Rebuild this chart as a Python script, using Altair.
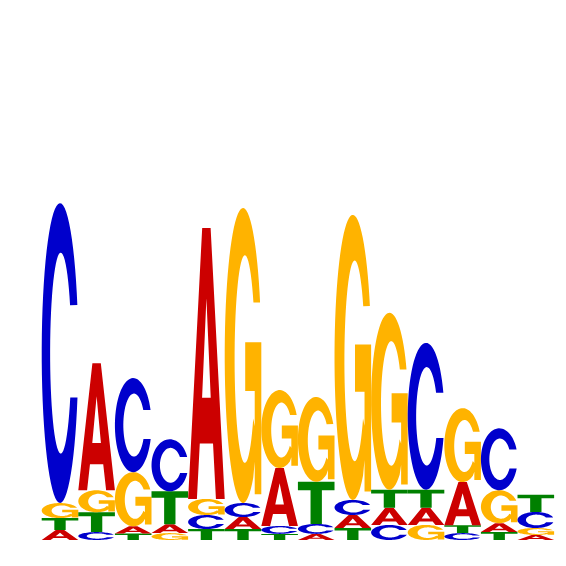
import numpy as np
import pandas as pd
import altair as alt

alt.data_transformers.disable_max_rows()

# ---- data: information (bits) carried by each base at each of 14 positions ----
positions = list(range(1, 15))
bits_A = [0.039, 0.498, 0.029, 0.035, 1.063, 0.047, 0.227, 0.024, 0.051, 0.067, 0.067, 0.169, 0.035, 0.020]
bits_C = [1.176, 0.031, 0.369, 0.204, 0.055, 0.055, 0.031, 0.039, 0.059, 0.059, 0.576, 0.027, 0.243, 0.063]
bits_G = [0.059, 0.086, 0.212, 0.027, 0.063, 1.157, 0.306, 0.333, 1.118, 0.694, 0.059, 0.290, 0.129, 0.027]
bits_T = [0.047, 0.078, 0.025, 0.129, 0.043, 0.043, 0.024, 0.165, 0.047, 0.071, 0.071, 0.031, 0.031, 0.067]

letters = ["A", "C", "G", "T"]
letter_colors = ["#CC0000", "#0000CC", "#FFB300", "#008000"]


# ---- glyph outlines in a unit box (x 0..1, y 0..1, y up) ----
def arc(cx, cy, rx, ry, a0, a1, n=44):
    t = np.radians(np.linspace(a0, a1, n))
    return list(zip(cx + rx * np.cos(t), cy + ry * np.sin(t)))


def glyph_C():
    pts = arc(0.5, 0.5, 0.5, 0.5, 18.66, 342.8, 64)
    pts += arc(0.52, 0.5, 0.29, 0.335, -26.2, -331.5, 56)
    return pts


def glyph_G():
    pts = arc(0.5, 0.5, 0.5, 0.5, 21.1, 304.0, 64)
    pts += [(0.82, 0.14), (0.82, 0.03), (1.0, 0.03), (1.0, 0.545),
            (0.56, 0.545), (0.56, 0.38), (0.82, 0.38), (0.82, 0.26)]
    pts += arc(0.55, 0.488, 0.28, 0.352, -35.0, -327.0, 56)
    return pts


def glyph_A():
    return [(0.0, 0.0), (0.24, 0.0), (0.319, 0.205), (0.681, 0.205), (0.76, 0.0),
            (1.0, 0.0), (0.615, 1.0), (0.5, 1.0), (0.5, 0.74),
            (0.618, 0.373), (0.382, 0.373), (0.5, 0.74), (0.5, 1.0),
            (0.385, 1.0)]


def glyph_T():
    return [(0.345, 0.0), (0.655, 0.0), (0.655, 0.8), (1.0, 0.8), (1.0, 1.0),
            (0.0, 1.0), (0.0, 0.8), (0.345, 0.8)]


GLYPHS = {"A": glyph_A(), "C": glyph_C(), "G": glyph_G(), "T": glyph_T()}

# ---- build stacked letter polygons ----
table = {"A": bits_A, "C": bits_C, "G": bits_G, "T": bits_T}
rows = []
for i, pos in enumerate(positions):
    col = sorted([(table[L][i], k, L) for k, L in enumerate(letters)])
    base = 0.0
    for h, _, L in col:
        for k, (u, v) in enumerate(GLYPHS[L]):
            rows.append({"x": pos - 0.5 + u, "y": base + v * h,
                         "letter": L, "gid": f"{pos}-{L}", "ord": k})
        base += h
df = pd.DataFrame(rows)

chart = (
    alt.Chart(df)
    .mark_line(strokeWidth=0, interpolate="linear")
    .encode(
        x=alt.X("x:Q", scale=alt.Scale(domain=[-0.4208, 14.606], nice=False, zero=False), axis=None),
        y=alt.Y("y:Q", scale=alt.Scale(domain=[-0.0706, 2.0863], nice=False, zero=False), axis=None),
        detail="gid:N",
        order="ord:Q",
        fill=alt.Fill("letter:N", scale=alt.Scale(domain=letters, range=letter_colors), legend=None),
    )
    .properties(width=550, height=550, padding=0)
    .configure_view(stroke=None)
)

chart.save("out.html", embed_options={"renderer": "svg", "actions": False})
